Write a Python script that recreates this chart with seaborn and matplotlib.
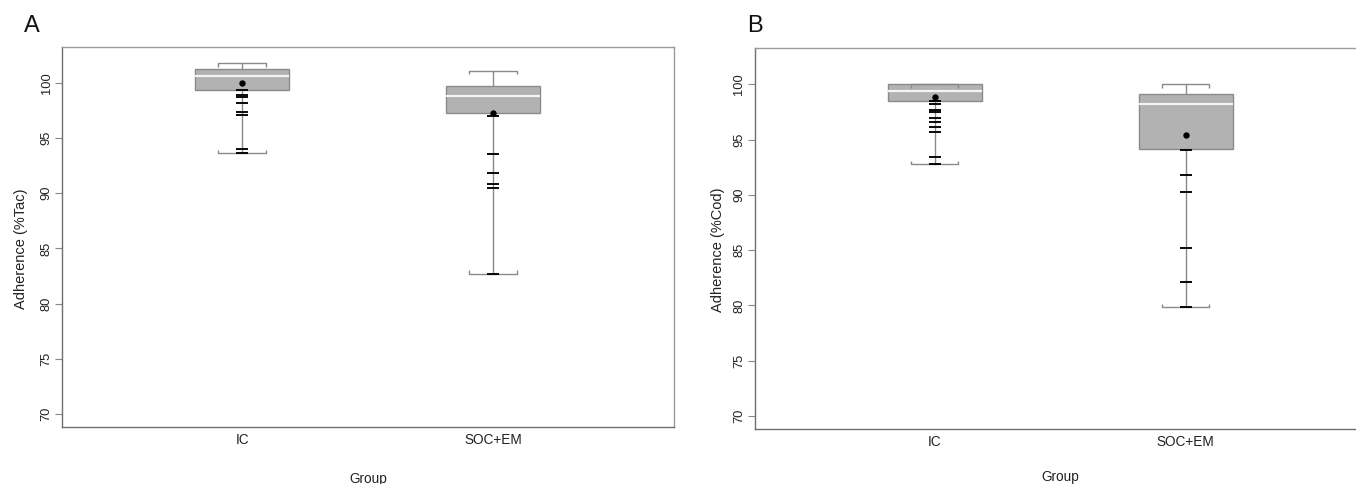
import numpy as np
import pandas as pd
import matplotlib
matplotlib.use("Agg")
import matplotlib.pyplot as plt
import seaborn as sns

# ---------------- data ----------------
groups = ["IC", "SOC+EM"]

# Panel A: tacrolimus adherence
tac_q1 = [99.34, 97.29]
tac_median = [100.6, 98.82]
tac_q3 = [101.21, 99.70]
tac_mean = [100.0, 97.30]
tac_min = [93.6, 82.72]
tac_max = [101.76, 101.06]
tac_ic_points = [99.34, 98.85, 98.70, 98.20, 97.38, 97.05, 94.0, 93.6]
tac_soc_points = [96.99, 93.55, 91.80, 90.85, 90.48, 82.72]

# Panel B: co-medication adherence
cod_q1 = [98.49, 94.14]
cod_median = [99.40, 98.22]
cod_q3 = [100.0, 99.10]
cod_mean = [98.85, 95.38]
cod_min = [92.8, 79.82]
cod_max = [100.0, 100.0]
cod_ic_points = [98.49, 98.19, 97.68, 97.53, 96.92, 96.56, 96.10, 95.70, 93.45, 92.75]
cod_soc_points = [94.05, 91.80, 90.30, 85.19, 82.08, 79.82]

y_ticks = [70, 75, 80, 85, 90, 95, 100]

# ---------------- style ----------------
sns.set_theme(style="white")
plt.rcParams["font.family"] = ["Liberation Sans", "DejaVu Sans"]
NARROW = ["Liberation Sans Narrow", "Liberation Sans", "DejaVu Sans"]

W, H = 1356, 484
fig = plt.figure(figsize=(W / 100, H / 100), dpi=100)

BOX_FILL = "#b2b2b2"
BOX_EDGE = "#8a8a8a"
WHISK = "#8a8a8a"
BOX_W = 0.375
CAP_W = 0.19


def panel(rect, q1, med, q3, mean, lo, hi, pts_ic, pts_soc, ylabel, letter,
          letter_xy, ylab_x, xlab_y):
    ax = fig.add_axes(rect)
    stats = []
    for i, g in enumerate(groups):
        stats.append(dict(label=g, q1=q1[i], med=med[i], q3=q3[i],
                          whislo=lo[i], whishi=hi[i], mean=mean[i], fliers=[]))
    pos = np.arange(len(groups))
    ax.bxp(stats, positions=pos, widths=BOX_W, patch_artist=True,
           showmeans=False, showfliers=False, capwidths=CAP_W,
           boxprops=dict(facecolor=BOX_FILL, edgecolor=BOX_EDGE, linewidth=1.0),
           medianprops=dict(color="#f4f4f4", linewidth=1.6),
           whiskerprops=dict(color=WHISK, linewidth=1.0),
           capprops=dict(color=WHISK, linewidth=1.0))
    # bracket ends on the caps
    tick = 0.3
    for i in range(len(groups)):
        xs = [pos[i] - CAP_W / 2, pos[i] + CAP_W / 2]
        ax.vlines(xs, hi[i] - tick, hi[i], color=WHISK, linewidth=1.0, zorder=3)
        ax.vlines(xs, lo[i], lo[i] + tick, color=WHISK, linewidth=1.0, zorder=3)

    df = pd.DataFrame({
        "group": [groups[0]] * len(pts_ic) + [groups[1]] * len(pts_soc),
        "value": list(pts_ic) + list(pts_soc),
    })
    sns.stripplot(data=df, x="group", y="value", order=groups, jitter=False,
                  marker="_", s=9, linewidth=1.35, color="black", ax=ax, zorder=5)
    dm = pd.DataFrame({"group": groups, "mean": mean})
    sns.stripplot(data=dm, x="group", y="mean", order=groups, jitter=False,
                  marker="o", s=4.6, linewidth=0, color="black", ax=ax, zorder=6)

    ax.set_xlim(-0.717, 1.718)
    ax.set_ylim(68.82, 103.26)
    ax.set_yticks(y_ticks)
    ax.set_yticklabels([str(v) for v in y_ticks])
    ax.set_xticks(pos)
    ax.set_xticklabels(groups)
    ax.tick_params(axis="y", which="both", left=True, length=5, width=0.8,
                   color="#888888", pad=1.9, labelsize=9.3, labelrotation=90,
                   labelcolor="#222222")
    for t in ax.get_yticklabels():
        t.set_va("center")
    ax.tick_params(axis="x", length=0, pad=4.3, labelsize=9.8, labelcolor="#222222")
    for t in ax.get_xticklabels():
        t.set_family(NARROW)

    ax.set_xlabel("Group", fontsize=9.8, color="#222222", family=NARROW)
    ax.xaxis.set_label_coords(0.5, xlab_y)
    ax.xaxis.label.set_va("top")
    ax.set_ylabel(ylabel, fontsize=10.5, color="#222222")
    ax.yaxis.set_label_coords(ylab_x, 0.47)

    for side in ["top", "right"]:
        ax.spines[side].set_color("#9a9a9a")
        ax.spines[side].set_linewidth(1.0)
        ax.spines[side].set_visible(True)
    for side in ["left", "bottom"]:
        ax.spines[side].set_color("#6e6e6e")
        ax.spines[side].set_linewidth(1.0)
    ax.grid(False)
    ax.set_facecolor("white")

    fig.text(letter_xy[0] / W, 1 - letter_xy[1] / H, letter, fontsize=17,
             color="#111111", va="baseline", ha="left")
    return ax


axw = 611.2 / W
axh_a = (427.3 - 46.7) / H
axh_b = (429.0 - 48.3) / H

panel([62.3 / W, 1 - 427.3 / H, axw, axh_a],
      tac_q1, tac_median, tac_q3, tac_mean, tac_min, tac_max,
      tac_ic_points, tac_soc_points, "Adherence (%Tac)", "A", (24, 32), -0.056,
      -0.1175)

panel([754.6 / W, 1 - 429.0 / H, axw, axh_b],
      cod_q1, cod_median, cod_q3, cod_mean, cod_min, cod_max,
      cod_ic_points, cod_soc_points, "Adherence (%Cod)", "B", (747, 32), -0.049,
      -0.108)

fig.savefig("out.png", dpi=100)
